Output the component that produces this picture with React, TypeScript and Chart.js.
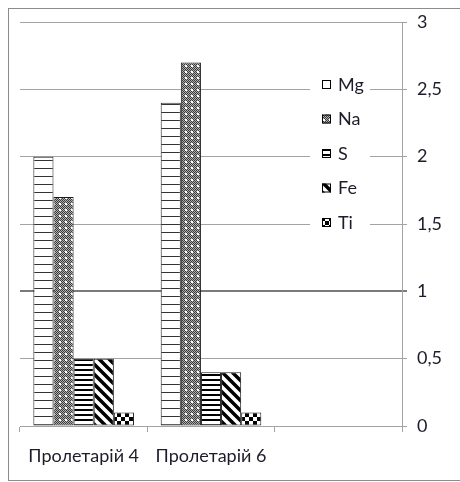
import React, { useEffect, useRef } from "react";
import { Chart, registerables } from "chart.js";

Chart.register(...registerables);

// Categories (the third slot is left empty; the legend sits over it)
const categories = ["Пролетарій 4", "Пролетарій 6", ""];
const seriesNames = ["Mg", "Na", "S", "Fe", "Ti"];
const mgValues = [2.0, 2.4, null];
const naValues = [1.7, 2.7, null];
const sValues = [0.5, 0.4, null];
const feValues = [0.5, 0.4, null];
const tiValues = [0.1, 0.1, null];
const yMin = 0;
const yMax = 3;
const yStep = 0.5;

const FONT = "Lato, 'Open Sans', sans-serif";
const FONT_SIZE = 18;
const TEXT = "#1c1c2a";
const GRID = "#a3a3a3";

function makePattern(w: number, h: number, draw: (g: CanvasRenderingContext2D) => void) {
  const c = document.createElement("canvas");
  c.width = w;
  c.height = h;
  const g = c.getContext("2d")!;
  draw(g);
  return g.createPattern(c, "repeat")!;
}

function buildPatterns() {
  const mg = makePattern(8, 8, (g) => {
    g.fillStyle = "#fff";
    g.fillRect(0, 0, 8, 8);
    g.fillStyle = "#333";
    g.fillRect(0, 7, 8, 1);
  });
  const na = makePattern(6, 6, (g) => {
    for (let y = 0; y < 6; y++) {
      for (let x = 0; x < 6; x++) {
        g.fillStyle = (x + y) % 2 === 0 ? "#3a3a3a" : "#b0b0b0";
        g.fillRect(x, y, 1, 1);
      }
    }
    g.fillStyle = "#fff";
    g.fillRect(2, 2, 2, 2);
  });
  const s = makePattern(4, 5, (g) => {
    g.fillStyle = "#fff";
    g.fillRect(0, 0, 4, 5);
    g.fillStyle = "#000";
    g.fillRect(0, 0, 4, 2);
  });
  const fe = makePattern(10, 10, (g) => {
    g.fillStyle = "#fff";
    g.fillRect(0, 0, 10, 10);
    g.strokeStyle = "#000";
    g.lineWidth = 3.5;
    g.beginPath();
    g.moveTo(-2, -2);
    g.lineTo(12, 12);
    g.moveTo(-12, -2);
    g.lineTo(2, 12);
    g.moveTo(8, -2);
    g.lineTo(22, 12);
    g.stroke();
  });
  const ti = makePattern(8, 8, (g) => {
    g.fillStyle = "#fff";
    g.fillRect(0, 0, 8, 8);
    g.fillStyle = "#000";
    g.fillRect(0, 0, 4, 4);
    g.fillRect(4, 4, 4, 4);
  });
  return [mg, na, s, fe, ti];
}

export default function App() {
  const ref = useRef<HTMLCanvasElement | null>(null);

  useEffect(() => {
    const canvas = ref.current;
    if (!canvas) return;
    const patterns = buildPatterns();
    const values = [mgValues, naValues, sValues, feValues, tiValues];

    // Legend box drawn inside the plot area, on the right
    const insideLegend = {
      id: "insideLegend",
      afterDraw(chart: Chart) {
        const ctx = chart.ctx;
        const ca = chart.chartArea;
        const boxLeft = ca.right - 92;
        const boxTop = ca.top + 49;
        ctx.save();
        ctx.fillStyle = "#fff";
        ctx.fillRect(boxLeft, boxTop, 60, 168);
        const rowH = 34.5;
        seriesNames.forEach((name, i) => {
          const cy = boxTop + 14 + i * rowH;
          const sx = boxLeft + 12;
          ctx.fillStyle = patterns[i];
          ctx.fillRect(sx, cy - 5, 9, 9);
          ctx.strokeStyle = "#000";
          ctx.lineWidth = 1;
          ctx.strokeRect(sx + 0.5, cy - 4.5, 8, 8);
          ctx.fillStyle = TEXT;
          ctx.font = `${FONT_SIZE}px ${FONT}`;
          ctx.textBaseline = "middle";
          ctx.textAlign = "left";
          ctx.fillText(name, sx + 16, cy);
        });
        ctx.restore();
      },
    };

    const chart = new Chart(canvas, {
      type: "bar",
      data: {
        labels: categories,
        datasets: seriesNames.map((name, i) => ({
          label: name,
          data: values[i],
          backgroundColor: patterns[i],
          borderColor: "#1a1a1a",
          borderWidth: 1,
          borderSkipped: false,
        })),
      },
      options: {
        responsive: false,
        animation: false,
        datasets: { bar: { barPercentage: 1, categoryPercentage: 0.79 } },
        layout: { padding: { left: 11, top: 13, right: 0, bottom: 0 } },
        plugins: { legend: { display: false }, tooltip: { enabled: false } },
        scales: {
          x: {
            grid: {
              display: true,
              offset: true,
              drawOnChartArea: false,
              drawTicks: true,
              tickLength: 6,
              color: GRID,
            },
            border: { display: true, color: GRID, width: 1 },
            ticks: {
              color: TEXT,
              font: { family: FONT, size: FONT_SIZE },
              padding: 13,
              maxRotation: 0,
              autoSkip: false,
            },
            afterFit(scale: any) {
              scale.height = 54;
              scale.paddingLeft = 0;
              scale.paddingRight = 0;
            },
          },
          y: {
            position: "right",
            min: yMin,
            max: yMax,
            grid: {
              color: (c: any) => (c.tick && c.tick.value === 1 ? "#7a7a7a" : GRID),
              lineWidth: (c: any) => (c.tick && c.tick.value === 1 ? 2 : 1),
              drawTicks: true,
              tickLength: 5,
            },
            border: { display: true, color: GRID, width: 1 },
            ticks: {
              stepSize: yStep,
              color: TEXT,
              font: { family: FONT, size: FONT_SIZE },
              padding: 10,
              callback: (v: any) => String(v).replace(".", ","),
            },
            afterFit(scale: any) {
              scale.width = 58;
              scale.paddingTop = 0;
              scale.paddingBottom = 0;
            },
          },
        },
      },
      plugins: [insideLegend],
    });
    return () => chart.destroy();
  }, []);

  return (
    <div
      style={{
        position: "fixed",
        left: 8,
        top: 8,
        width: 452,
        height: 471,
        borderLeft: "1px solid #8c8c8c",
        borderTop: "1px solid #8c8c8c",
        borderBottom: "1px solid #8c8c8c",
        background: "#fff",
      }}
    >
      <canvas ref={ref} width={451} height={471} style={{ display: "block" }} />
    </div>
  );
}
